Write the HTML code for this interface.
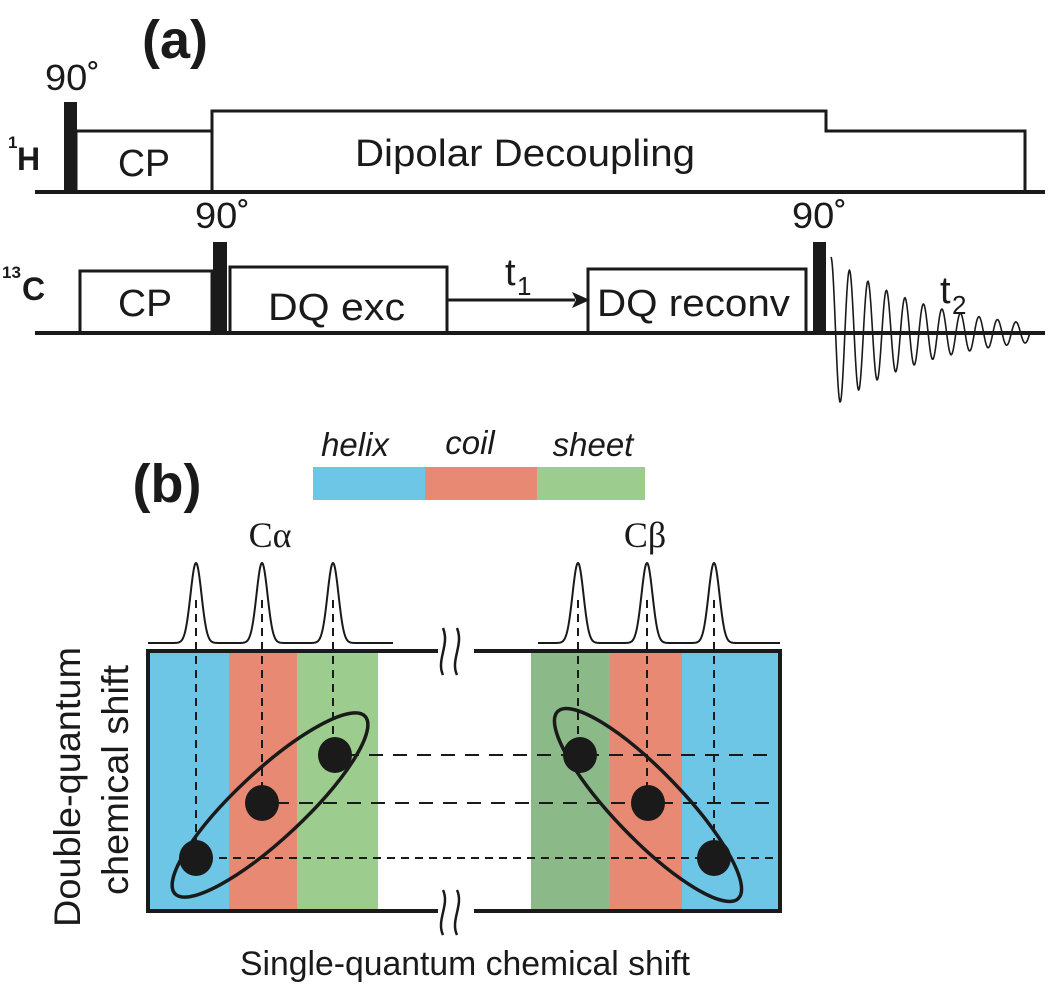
<!DOCTYPE html>
<html><head><meta charset="utf-8"><style>
html,body{margin:0;padding:0;background:#fff}
svg{display:block}
text{font-family:"Liberation Sans",sans-serif;fill:#1a1a1a}
</style></head><body>
<svg width="1050" height="986" viewBox="0 0 1050 986" xmlns="http://www.w3.org/2000/svg">
<!-- (a) -->
<text x="175" y="58" font-size="54" font-weight="bold" text-anchor="middle">(a)</text>
<text x="45" y="90" font-size="36" textLength="55" lengthAdjust="spacingAndGlyphs">90˚</text>
<text x="17" y="170" font-size="32" font-weight="bold">H</text>
<text x="8" y="148" font-size="17" font-weight="bold">1</text>
<g fill="none" stroke="#1a1a1a" stroke-width="3">
<line x1="35" y1="192" x2="1045" y2="192" stroke-width="4"/>
<polyline points="76,192 76,131 212,131 212,111 826,111 826,131 1025,131 1025,192"/>
<line x1="212" y1="131" x2="212" y2="192"/>
</g>
<rect x="64" y="102" width="13" height="91" fill="#1a1a1a"/>
<text x="118" y="176" font-size="38" textLength="52" lengthAdjust="spacingAndGlyphs">CP</text>
<text x="355" y="166" font-size="38" textLength="340" lengthAdjust="spacingAndGlyphs">Dipolar Decoupling</text>

<text x="195" y="228" font-size="36" textLength="55" lengthAdjust="spacingAndGlyphs">90˚</text>
<text x="792" y="228" font-size="36" textLength="55" lengthAdjust="spacingAndGlyphs">90˚</text>
<text x="22" y="300" font-size="32" font-weight="bold">C</text>
<text x="2" y="278" font-size="17" font-weight="bold">13</text>
<g fill="none" stroke="#1a1a1a" stroke-width="3">
<line x1="35" y1="333" x2="1045" y2="333" stroke-width="4"/>
<polyline points="80,333 80,271 212,271 212,333"/>
<polyline points="230,333 230,267 447,267 447,333"/>
<polyline points="588,333 588,269 806,269 806,333"/>
<line x1="447" y1="300" x2="575" y2="300"/>
</g>
<polygon points="590,300 572,292 576,300 572,308" fill="#1a1a1a"/>
<rect x="213" y="242" width="14" height="91" fill="#1a1a1a"/>
<rect x="813" y="242" width="13" height="91" fill="#1a1a1a"/>
<text x="118" y="316" font-size="38" textLength="54" lengthAdjust="spacingAndGlyphs">CP</text>
<text x="268" y="320" font-size="38" textLength="137" lengthAdjust="spacingAndGlyphs">DQ exc</text>
<text x="597" y="316" font-size="38" textLength="193" lengthAdjust="spacingAndGlyphs">DQ reconv</text>
<text x="505" y="285" font-size="38">t</text>
<text x="517" y="295" font-size="26">1</text>
<text x="940" y="303" font-size="38">t</text>
<text x="952" y="314" font-size="26">2</text>
<path id="fid" fill="none" stroke="#1a1a1a" stroke-width="1.6" d=""/>

<!-- (b) -->
<text x="167" y="502" font-size="54" font-weight="bold" text-anchor="middle">(b)</text>
<text x="355" y="456" font-size="33" font-style="italic" text-anchor="middle">helix</text>
<text x="470" y="454" font-size="33" font-style="italic" text-anchor="middle">coil</text>
<text x="593" y="456" font-size="33" font-style="italic" text-anchor="middle">sheet</text>
<rect x="313" y="467" width="112" height="33" fill="#6ec6e6"/>
<rect x="425" y="467" width="112" height="33" fill="#e88a73"/>
<rect x="537" y="467" width="108" height="33" fill="#9ccd8e"/>
<text x="270" y="547" font-size="36" text-anchor="middle" style="font-family:'Liberation Serif',serif">Cα</text>
<text x="645" y="547" font-size="36" text-anchor="middle" style="font-family:'Liberation Serif',serif">Cβ</text>

<rect x="148" y="651" width="81" height="260" fill="#6ec6e6"/>
<rect x="229" y="651" width="68" height="260" fill="#e88a73"/>
<rect x="297" y="651" width="81" height="260" fill="#9ccd8e"/>
<rect x="531" y="651" width="79" height="260" fill="#8bba88"/>
<rect x="610" y="651" width="72" height="260" fill="#e88a73"/>
<rect x="682" y="651" width="98" height="260" fill="#6ec6e6"/>
<rect x="148" y="651" width="632" height="260" fill="none" stroke="#1a1a1a" stroke-width="4"/>
<rect x="438" y="640" width="36" height="20" fill="#fff"/>
<rect x="438" y="902" width="36" height="20" fill="#fff"/>
<g fill="none" stroke="#1a1a1a" stroke-width="2.5">
<path d="M443,675 C436,660 450,645 443,628"/>
<path d="M457,675 C450,660 464,645 457,628"/>
<path d="M443,935 C436,920 450,905 443,890"/>
<path d="M457,935 C450,920 464,905 457,890"/>
</g>
<path id="spec1" fill="none" stroke="#1a1a1a" stroke-width="2"/>
<path id="spec2" fill="none" stroke="#1a1a1a" stroke-width="2"/>
<g stroke="#1a1a1a" stroke-width="2" stroke-dasharray="8,6" fill="none">
<line x1="196" y1="600" x2="196" y2="858"/>
<line x1="262" y1="600" x2="262" y2="803"/>
<line x1="333" y1="600" x2="333" y2="755"/>
<line x1="578" y1="600" x2="578" y2="755"/>
<line x1="647" y1="600" x2="647" y2="803"/>
<line x1="714" y1="600" x2="714" y2="858"/>
<line x1="345" y1="755" x2="775" y2="755" stroke-dasharray="14,10"/>
<line x1="275" y1="803" x2="772" y2="803" stroke-dasharray="14,10"/>
<line x1="205" y1="858" x2="778" y2="858" stroke-dasharray="8,6"/>
</g>
<g fill="#1a1a1a">
<ellipse cx="196" cy="858" rx="17" ry="18"/>
<ellipse cx="262" cy="803" rx="17" ry="18"/>
<ellipse cx="335" cy="755" rx="17" ry="18"/>
<ellipse cx="580" cy="755" rx="17" ry="18"/>
<ellipse cx="648" cy="803" rx="17" ry="18"/>
<ellipse cx="714" cy="858" rx="17" ry="18"/>
</g>
<g fill="none" stroke="#1a1a1a" stroke-width="3.5">
<ellipse cx="270" cy="805" rx="130" ry="34" transform="rotate(-43 270 805)"/>
<ellipse cx="648" cy="805" rx="130" ry="34" transform="rotate(46 648 805)"/>
</g>
<text transform="translate(80,787) rotate(-90)" font-size="37" text-anchor="middle" textLength="280" lengthAdjust="spacingAndGlyphs">Double-quantum</text>
<text transform="translate(128,780) rotate(-90)" font-size="37" text-anchor="middle" textLength="230" lengthAdjust="spacingAndGlyphs">chemical shift</text>
<text x="240" y="975" font-size="34" textLength="450" lengthAdjust="spacingAndGlyphs">Single-quantum chemical shift</text>
</svg>
<script>
(function(){
var d="M831,257";
for(var x=831;x<=1030;x+=0.5){
 var A=76*Math.exp(-(x-831)/96);
 var y=333-A*Math.cos(2*Math.PI*(x-831)/18.5);
 d+=" L"+x.toFixed(1)+","+y.toFixed(1);
}
document.getElementById('fid').setAttribute('d',d);
function spec(x0,x1,peaks,id){
 var s="";
 for(var x=x0;x<=x1;x+=0.5){
  var y=643;
  for(var i=0;i<peaks.length;i++){y-=80*Math.exp(-Math.pow(x-peaks[i],2)/(2*5.5*5.5));}
  s+=(s?" L":"M")+x+","+y.toFixed(1);
 }
 document.getElementById(id).setAttribute('d',s);
}
spec(148,393,[196,262,333],'spec1');
spec(538,780,[578,647,714],'spec2');
})();
</script>
</body></html>
